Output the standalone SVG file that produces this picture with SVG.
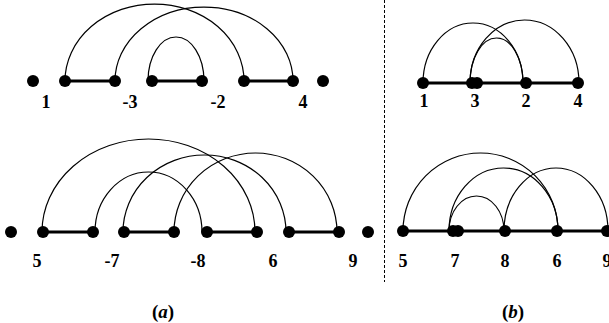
<svg xmlns="http://www.w3.org/2000/svg" width="609" height="323" viewBox="0 0 609 323">
<style>
.d{fill:#000}
.arc{fill:none;stroke:#000;stroke-width:1.2}
.seg{stroke:#000;stroke-width:3}
.lbl{font-family:"Liberation Serif","Times New Roman",serif;font-weight:bold;font-size:18px;text-anchor:middle;fill:#000}
.cap{font-family:"Liberation Serif","Times New Roman",serif;font-weight:bold;font-size:19px;text-anchor:middle;fill:#000}
</style>
<rect width="609" height="323" fill="#fff"/>
<line x1="384.5" y1="0" x2="384.5" y2="282" stroke="#000" stroke-width="1" stroke-dasharray="3,2"/>
<g id="connectors">
  <!-- top-left -->
  <line class="seg" x1="65" y1="81" x2="115" y2="81"/>
  <line class="seg" x1="152" y1="81" x2="202" y2="81"/>
  <line class="seg" x1="244" y1="81" x2="293" y2="81"/>
  <path class="arc" d="M65 81 A89.5 77 0 0 1 244 81"/>
  <path class="arc" d="M115 81 A89 74 0 0 1 293 81"/>
  <path class="arc" d="M148 81 A28 44 0 0 1 204 81"/>
  <!-- bottom-left -->
  <line class="seg" x1="43" y1="232" x2="93" y2="232"/>
  <line class="seg" x1="124" y1="232" x2="174" y2="232"/>
  <line class="seg" x1="207" y1="232" x2="257" y2="232"/>
  <line class="seg" x1="289" y1="232" x2="339" y2="232"/>
  <path class="arc" d="M42 232 A106.5 93 0 0 1 255 232"/>
  <path class="arc" d="M95 232 A53.5 60 0 0 1 202 232"/>
  <path class="arc" d="M123 232 A81.5 77 0 0 1 286 232"/>
  <path class="arc" d="M174 232 A81.5 79 0 0 1 337 232"/>
  <!-- top-right -->
  <line class="seg" x1="423" y1="83" x2="578" y2="83"/>
  <path class="arc" d="M423 83 A50 60 0 0 1 523 83"/>
  <path class="arc" d="M470 83 A54.5 63 0 0 1 579 83"/>
  <path class="arc" d="M470 83 A26.5 45 0 0 1 523 83"/>
  <!-- bottom-right -->
  <line class="seg" x1="403" y1="231" x2="609" y2="231"/>
  <path class="arc" d="M403 231 A77.5 78 0 0 1 558 231"/>
  <path class="arc" d="M449 231 A54.5 63 0 0 1 558 231"/>
  <path class="arc" d="M449 231 A27.5 35 0 0 1 504 231"/>
  <path class="arc" d="M504 231 A52 63 0 0 1 608 231"/>
</g>
<!-- top-left nodes -->
<g id="tl-0"><circle class="d" cx="33" cy="81" r="6"/></g>
<g id="tl-1"><circle class="d" cx="65" cy="81" r="6"/></g>
<g id="tl-2"><circle class="d" cx="115" cy="81" r="6"/></g>
<g id="tl-3"><circle class="d" cx="152" cy="81" r="6"/></g>
<g id="tl-4"><circle class="d" cx="202" cy="81" r="6"/></g>
<g id="tl-5"><circle class="d" cx="244" cy="81" r="6"/></g>
<g id="tl-6"><circle class="d" cx="293" cy="81" r="6"/></g>
<g id="tl-7"><circle class="d" cx="323" cy="81" r="6"/></g>
<g id="tl-labels">
  <text class="lbl" x="46" y="108">1</text>
  <text class="lbl" x="130" y="108">-3</text>
  <text class="lbl" x="218" y="108">-2</text>
  <text class="lbl" x="303" y="108">4</text>
</g>
<!-- bottom-left nodes -->
<g id="bl-0"><circle class="d" cx="11" cy="232" r="6"/></g>
<g id="bl-1"><circle class="d" cx="43" cy="232" r="6"/></g>
<g id="bl-2"><circle class="d" cx="93" cy="232" r="6"/></g>
<g id="bl-3"><circle class="d" cx="124" cy="232" r="6"/></g>
<g id="bl-4"><circle class="d" cx="174" cy="232" r="6"/></g>
<g id="bl-5"><circle class="d" cx="207" cy="232" r="6"/></g>
<g id="bl-6"><circle class="d" cx="257" cy="232" r="6"/></g>
<g id="bl-7"><circle class="d" cx="289" cy="232" r="6"/></g>
<g id="bl-8"><circle class="d" cx="339" cy="232" r="6"/></g>
<g id="bl-9"><circle class="d" cx="368" cy="232" r="6"/></g>
<g id="bl-labels">
  <text class="lbl" x="37" y="267">5</text>
  <text class="lbl" x="112" y="267">-7</text>
  <text class="lbl" x="198" y="267">-8</text>
  <text class="lbl" x="273" y="267">6</text>
  <text class="lbl" x="353" y="267">9</text>
</g>
<!-- top-right nodes -->
<g id="tr-1"><circle class="d" cx="423" cy="83" r="6"/><text class="lbl" x="424" y="107">1</text></g>
<g id="tr-3"><circle class="d" cx="472" cy="83" r="6"/><circle class="d" cx="477" cy="83" r="6"/><text class="lbl" x="475" y="107">3</text></g>
<g id="tr-2"><circle class="d" cx="526" cy="83" r="6"/><text class="lbl" x="526" y="107">2</text></g>
<g id="tr-4"><circle class="d" cx="578" cy="83" r="6"/><text class="lbl" x="578" y="107">4</text></g>
<!-- bottom-right nodes -->
<g id="br-5"><circle class="d" cx="403" cy="231" r="6"/><text class="lbl" x="403" y="267">5</text></g>
<g id="br-7"><circle class="d" cx="453" cy="231" r="6"/><circle class="d" cx="458" cy="231" r="6"/><text class="lbl" x="455" y="267">7</text></g>
<g id="br-8"><circle class="d" cx="505" cy="231" r="6"/><text class="lbl" x="505" y="267">8</text></g>
<g id="br-6"><circle class="d" cx="557" cy="231" r="6"/><text class="lbl" x="557" y="267">6</text></g>
<g id="br-9"><circle class="d" cx="607" cy="231" r="6"/><text class="lbl" x="607" y="267">9</text></g>
<g id="captions">
  <text class="cap" x="163" y="318">(<tspan font-style="italic">a</tspan>)</text>
  <text class="cap" x="513" y="318">(<tspan font-style="italic">b</tspan>)</text>
</g>
</svg>
